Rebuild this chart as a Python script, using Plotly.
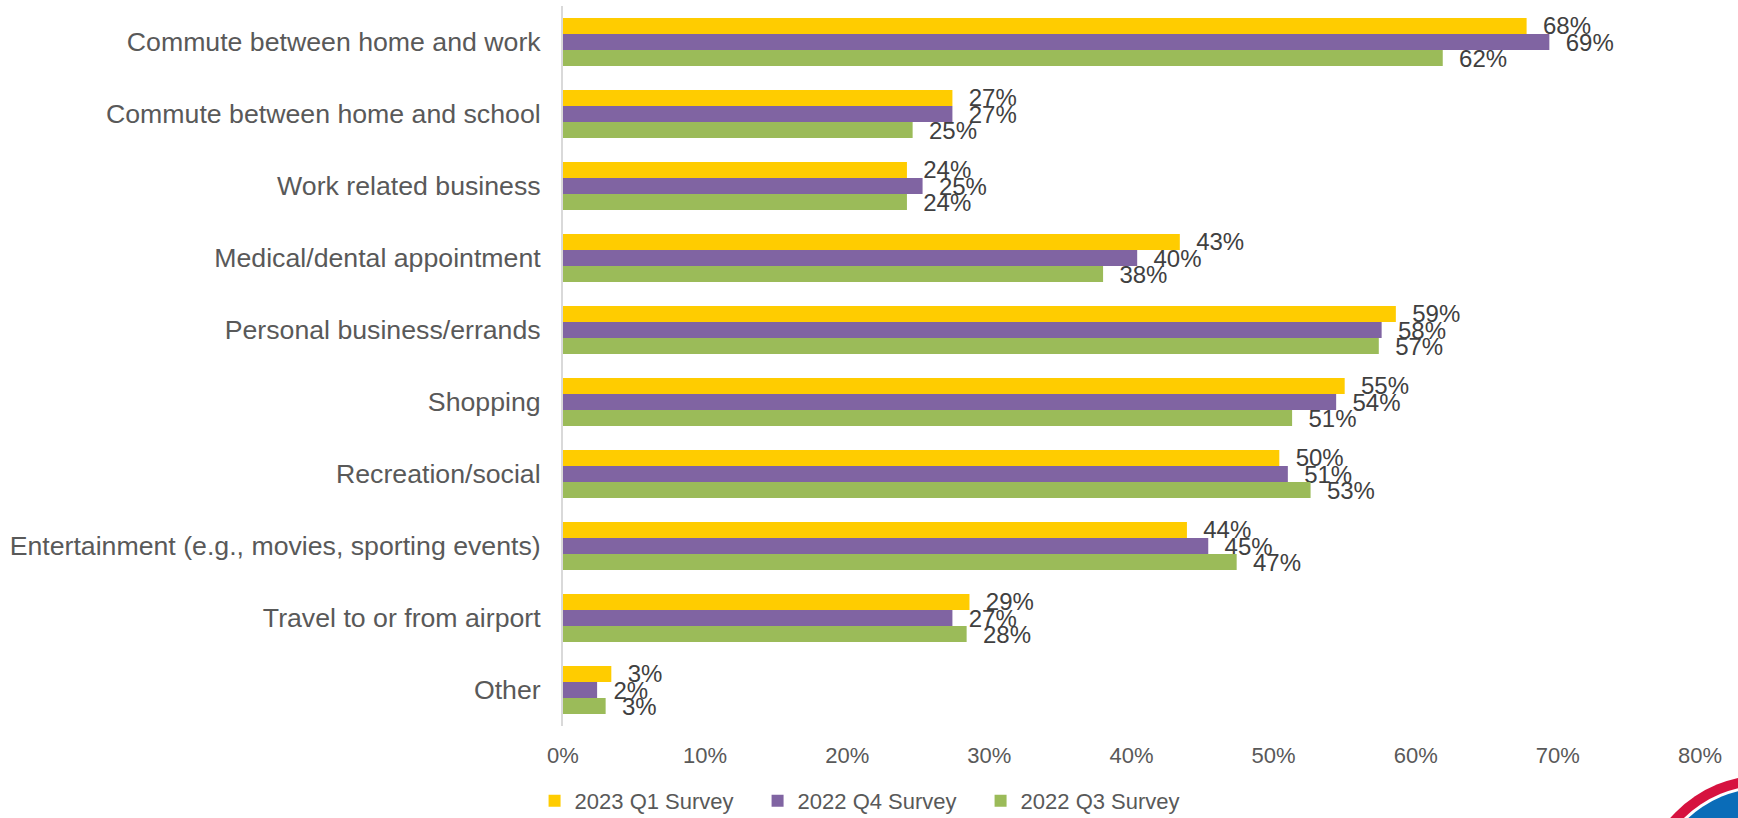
import plotly.graph_objects as go

# Trip purposes (top to bottom)
categories = [
    "Commute between home and work",
    "Commute between home and school",
    "Work related business",
    "Medical/dental appointment",
    "Personal business/errands",
    "Shopping",
    "Recreation/social",
    "Entertainment (e.g., movies, sporting events)",
    "Travel to or from airport",
    "Other",
]

# Share of respondents per survey wave (fraction)
q1_2023 = [0.678, 0.274, 0.242, 0.434, 0.586, 0.550, 0.504, 0.439, 0.286, 0.034]
q4_2022 = [0.694, 0.274, 0.253, 0.404, 0.576, 0.544, 0.510, 0.454, 0.274, 0.024]
q3_2022 = [0.619, 0.246, 0.242, 0.380, 0.574, 0.513, 0.526, 0.474, 0.284, 0.030]

series_names = ["2023 Q1 Survey", "2022 Q4 Survey", "2022 Q3 Survey"]
series_values = [q1_2023, q4_2022, q3_2022]
series_colors = ["#FFCC00", "#8064A2", "#9BBB59"]

x_ticks = [0, 0.1, 0.2, 0.3, 0.4, 0.5, 0.6, 0.7, 0.8]

FONT = "Arial, Liberation Sans, sans-serif"
W, H = 1738, 818
L, R, T, B = 563, 38, 6, 92

fig = go.Figure()
for name, vals, col in zip(series_names, series_values, series_colors):
    fig.add_trace(go.Bar(
        name=name,
        y=categories,
        x=vals,
        orientation="h",
        marker=dict(color=col, line=dict(width=0)),
        texttemplate="\u00a0\u00a0%{x:.0%}",
        textposition="outside",
        textfont=dict(family=FONT, size=24, color="#404040"),
        cliponaxis=False,
        constraintext="none",
    ))

# Logo badge in the lower-right corner (pixel geometry mapped to paper)
pw, ph = W - L - R, H - T - B


def px_circle(cx, cy, r, color):
    return dict(
        type="circle", xref="paper", yref="paper",
        x0=(cx - r - L) / pw, x1=(cx + r - L) / pw,
        y0=(H - B - (cy + r)) / ph, y1=(H - B - (cy - r)) / ph,
        fillcolor=color, line=dict(width=0), layer="above",
    )


cx, cy = 1765, 901
fig.update_layout(shapes=[
    px_circle(cx, cy, 126, "#D6123F"),
    px_circle(cx, cy, 116, "#FFFFFF"),
    px_circle(cx, cy, 113, "#0A6CB8"),
])

fig.update_layout(
    width=W, height=H,
    margin=dict(l=L, r=R, t=T, b=B, pad=0, autoexpand=False),
    paper_bgcolor="white",
    plot_bgcolor="white",
    barmode="group",
    bargap=0.333,
    bargroupgap=0,
    font=dict(family=FONT, color="#595959"),
    showlegend=True,
    legend=dict(
        orientation="h",
        x=-0.025, xanchor="left",
        y=-0.104, yanchor="middle",
        font=dict(family=FONT, size=22, color="#595959"),
        itemwidth=30,
        entrywidth=178, entrywidthmode="pixels",
        traceorder="normal",
    ),
    xaxis=dict(
        range=[0, 0.8],
        tickvals=x_ticks,
        tickformat=".0%",
        showgrid=False,
        zeroline=False,
        showline=False,
        ticks="",
        ticklabelstandoff=14,
        tickfont=dict(family=FONT, size=22, color="#595959"),
    ),
    yaxis=dict(
        autorange="reversed",
        showgrid=False,
        showline=True,
        linecolor="#D9D9D9",
        linewidth=2,
        ticks="",
        ticklabelstandoff=15,
        tickfont=dict(family=FONT, size=26.7, color="#595959"),
    ),
)

fig.write_html("out.html")
